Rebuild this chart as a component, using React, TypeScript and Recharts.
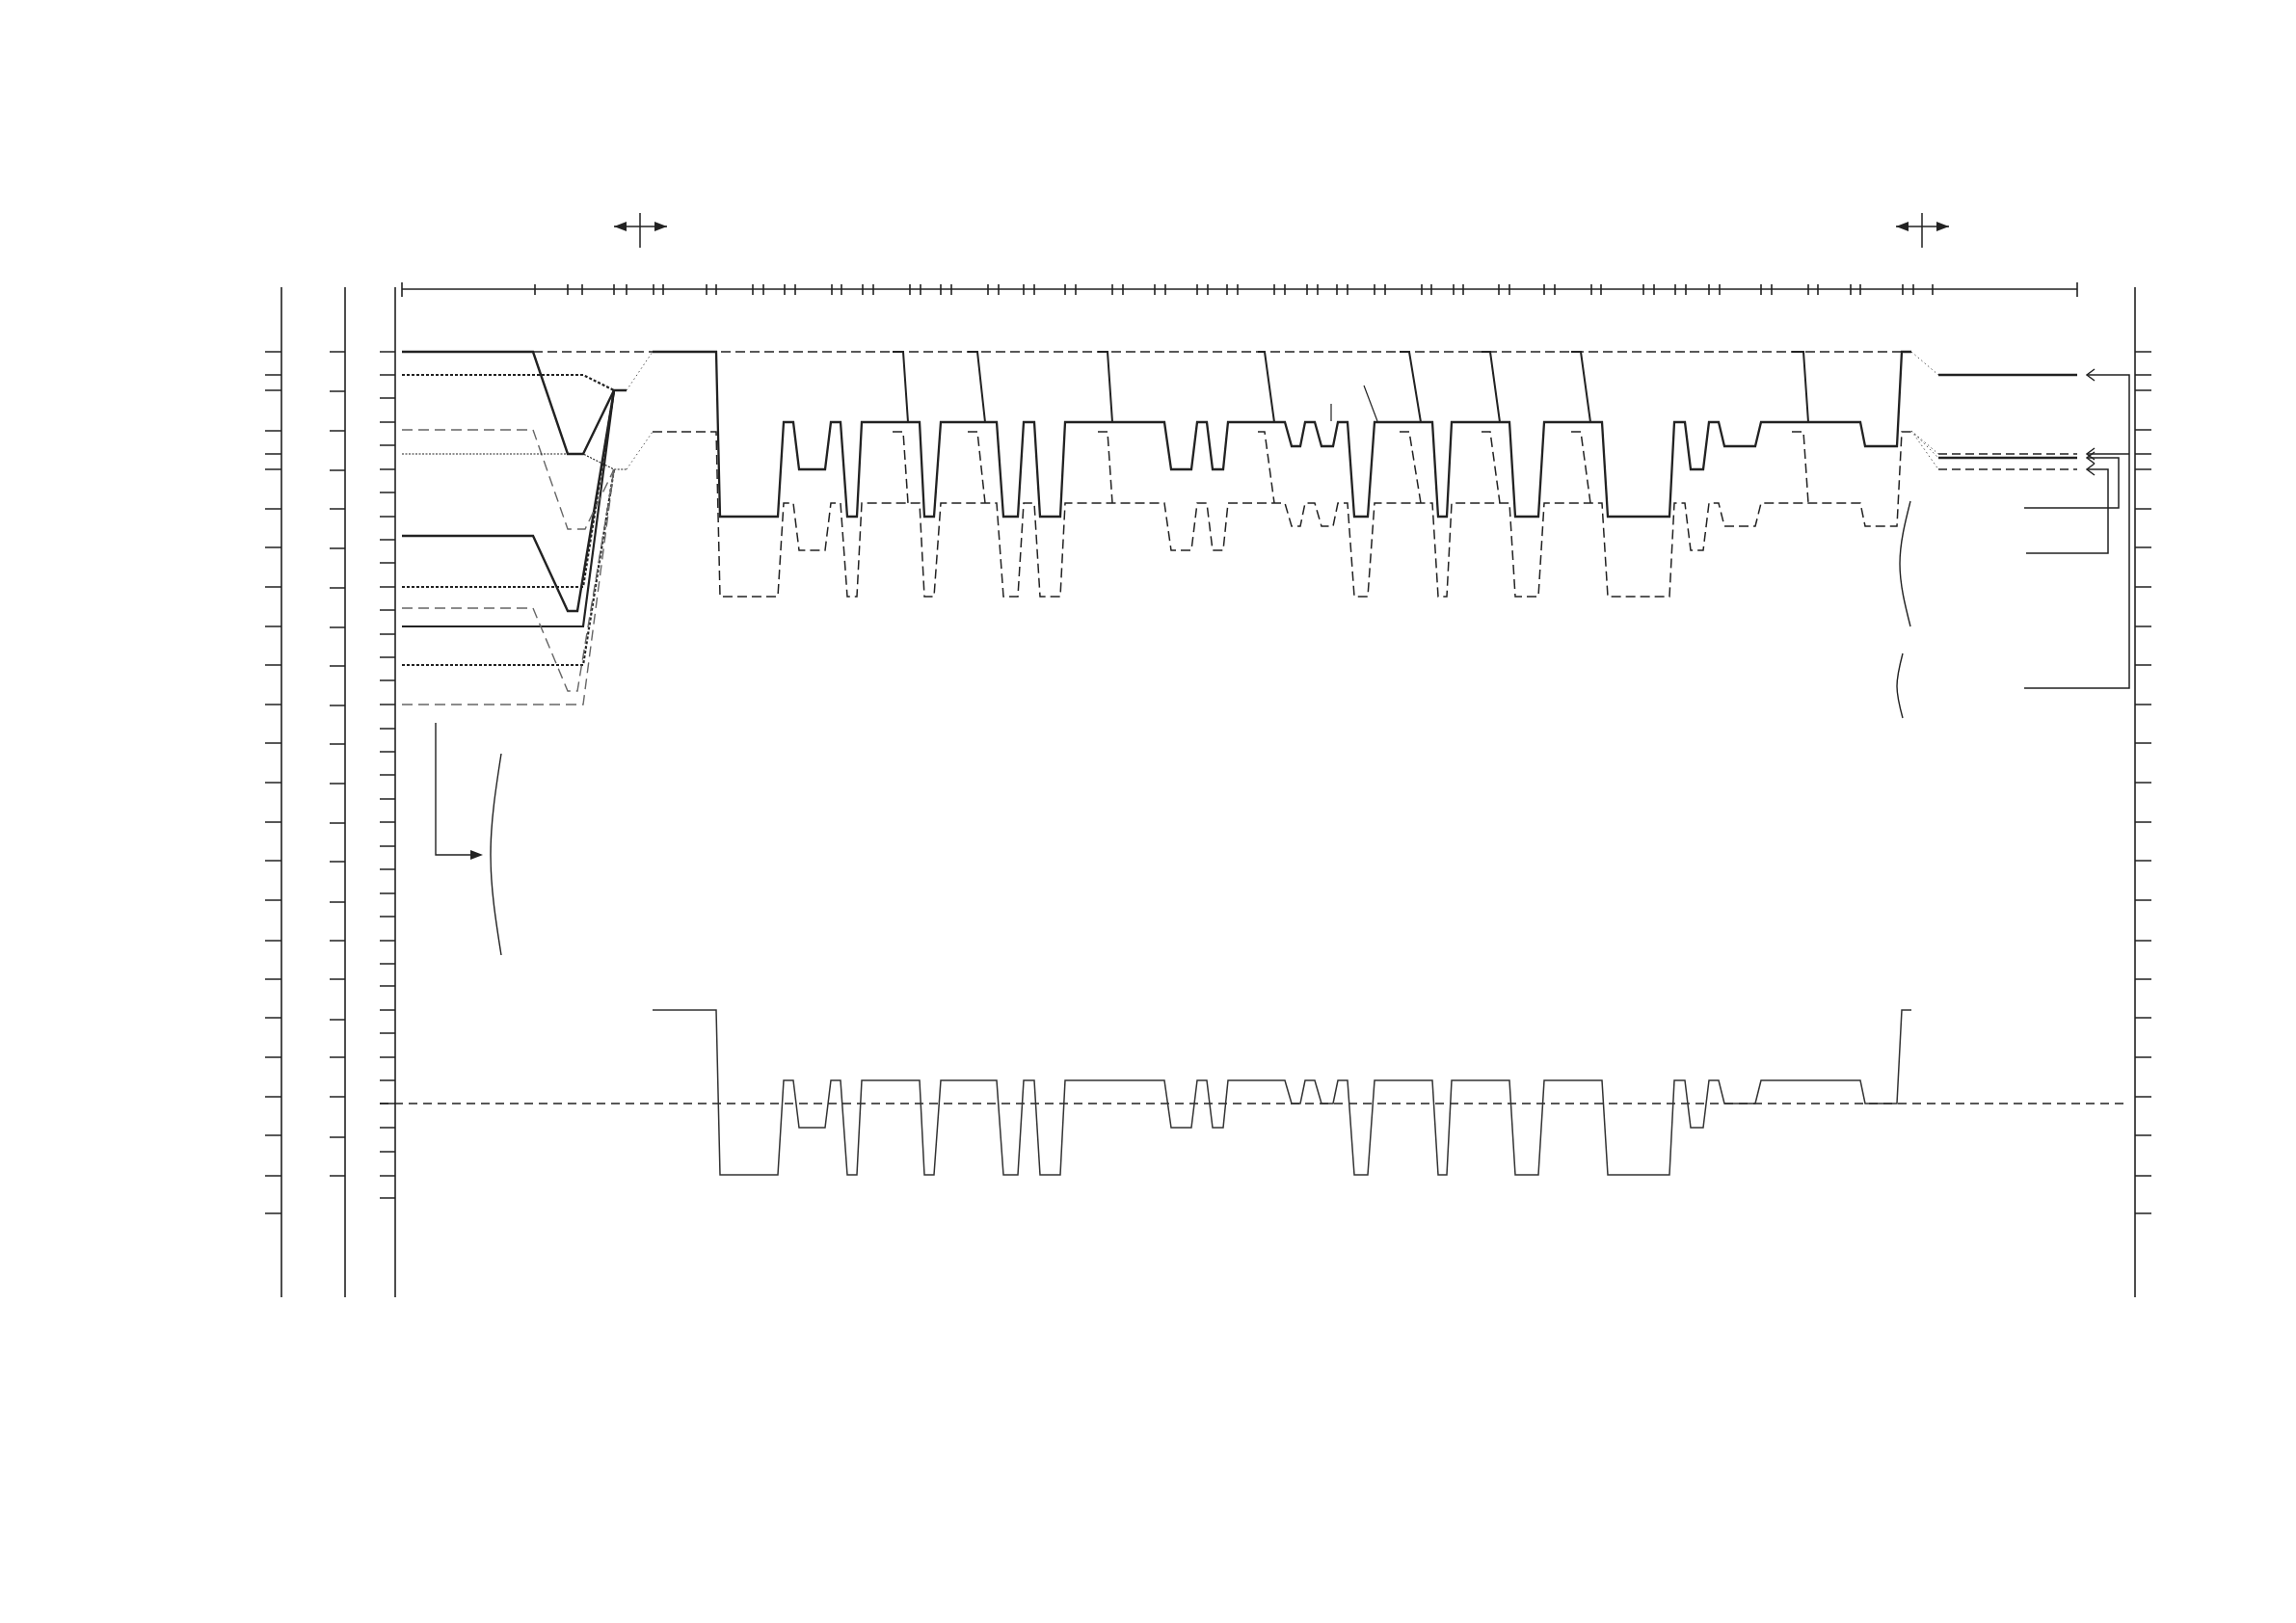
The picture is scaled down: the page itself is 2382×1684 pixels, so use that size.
import { ComposedChart, Line, Scatter, XAxis, YAxis } from "recharts";

const W = 2382;
const H = 1684;

// shared waveform: transition times and state at each time
const waveTimes = [
  677, 743, 747, 807, 813, 823, 829, 856, 862, 872, 879, 889, 894, 954, 959, 969, 976, 1034, 1041, 1056,
  1062, 1073, 1079, 1100, 1105, 1208, 1215, 1236, 1242, 1252, 1258, 1269, 1274, 1333, 1340, 1349, 1354,
  1364, 1371, 1383, 1388, 1398, 1405, 1419, 1426, 1486, 1492, 1501, 1506, 1566, 1572, 1596, 1602, 1662,
  1668, 1732, 1737, 1748, 1754, 1767, 1773, 1783, 1789, 1821, 1827, 1930, 1935, 1968, 1973, 1983,
];
const waveStates = [
  "T", "T", "L", "L", "H", "H", "M", "M", "H", "H", "L", "L", "H", "H", "L", "L", "H", "H", "L", "L",
  "H", "H", "L", "L", "H", "H", "M", "M", "H", "H", "M", "M", "H", "H", "Q", "Q", "H", "H", "Q", "Q",
  "H", "H", "L", "L", "H", "H", "L", "L", "H", "H", "L", "L", "H", "H", "L", "L", "H", "H", "M", "M",
  "H", "H", "Q", "Q", "H", "H", "Q", "Q", "T", "T",
];

const stateNames = ["T", "H", "Q", "M", "L"];
const solidLevels = [365, 438, 463, 487, 536];
const dashedLevels = [448, 522, 546, 571, 619];
const bottomLevels = [1048, 1121, 1145, 1170, 1219];

// short drops from the top rail onto the high level
const dropStart = [926, 1004, 1139, 1305, 1452, 1537, 1630, 1859];
const dropBend = [937, 1014, 1149, 1312, 1462, 1546, 1640, 1871];
const dropEnd = [942, 1022, 1154, 1322, 1474, 1556, 1650, 1876];

// ruler ticks
const topTicks = [
  555, 589, 604, 637, 650, 678, 688, 733, 743, 781, 792, 814, 825, 863, 873, 895, 906, 944, 955, 976, 987,
  1025, 1036, 1062, 1073, 1105, 1116, 1154, 1165, 1198, 1209, 1242, 1253, 1273, 1284, 1322, 1333, 1356,
  1367, 1387, 1398, 1426, 1437, 1475, 1485, 1508, 1518, 1555, 1566, 1602, 1613, 1651, 1661, 1705, 1716,
  1738, 1749, 1773, 1784, 1827, 1838, 1876, 1886, 1920, 1930, 1974, 1985, 2005,
];
const topEnds = [417, 2155];
const ticksA = [365, 389, 405, 447, 471, 487, 528, 568, 609, 650, 690, 731, 771, 812, 853, 893, 934, 976, 1016, 1056, 1097, 1138, 1178, 1220, 1259];
const ticksB = [365, 406, 447, 488, 528, 569, 610, 651, 691, 732, 772, 813, 854, 894, 936, 976, 1016, 1058, 1097, 1138, 1180, 1220];
const ticksC = [365, 389, 413, 438, 462, 487, 511, 536, 560, 584, 609, 633, 658, 682, 706, 731, 756, 780, 804, 829, 853, 878, 902, 927, 951, 976, 1000, 1023, 1048, 1072, 1097, 1121, 1145, 1170, 1195, 1220, 1243];
const ticksD = [365, 389, 405, 446, 471, 487, 528, 568, 609, 650, 690, 731, 771, 812, 853, 893, 934, 976, 1016, 1056, 1097, 1138, 1178, 1220, 1259];

// start-up traces on the left
const leftSolid1 = [[417, 365], [553, 365], [589, 471], [605, 471], [637, 405], [650, 405]];
const leftSolid2 = [[417, 556], [553, 556], [589, 634], [599, 634], [637, 405]];
const leftSolid3 = [[417, 650], [605, 650], [637, 405]];
const leftDense1 = [[417, 389], [605, 389], [637, 405]];
const leftDense2 = [[417, 609], [605, 609], [637, 405]];
const leftDense3 = [[417, 690], [605, 690], [637, 487]];
const leftGray1 = [[417, 446], [553, 446], [589, 549], [607, 549], [637, 487]];
const leftGray2 = [[417, 631], [553, 631], [589, 717], [599, 717], [637, 487]];
const leftGray3 = [[417, 731], [605, 731], [637, 487]];
const leftThin = [[417, 471], [605, 471], [637, 487], [650, 487]];
const joinDots = [
  [[650, 405], [677, 365]],
  [[650, 487], [677, 448]],
  [[1983, 365], [2011, 389]],
  [[1983, 447], [2011, 471]],
  [[1983, 447], [2011, 475]],
  [[1983, 447], [2011, 487]],
];

// outputs on the right
const outSolid = [[[2011, 389], [2155, 389]], [[2011, 475], [2155, 475]]];
const outDashed = [[[2011, 471], [2155, 471]], [[2011, 487], [2155, 487]]];
const leaders = [
  [[2165, 389], [2209, 389], [2209, 714], [2100, 714]],
  [[2165, 471], [2209, 471]],
  [[2165, 475], [2198, 475], [2198, 527], [2100, 527]],
  [[2165, 487], [2187, 487], [2187, 574], [2102, 574]],
];
const openHeadY = [389, 471, 475, 487];

const arcs = [
  [[520, 782], [509, 887], [520, 991]],
  [[1982, 520], [1971, 585], [1982, 650]],
  [[1974, 678], [1968, 712], [1974, 745]],
];
const leftArrow = [[452, 750], [452, 887], [490, 887]];
const marks = [[[1381, 419], [1381, 437]], [[1415, 400], [1429, 437]]];

const spanArrows = [
  { x0: 637, x1: 692, xm: 664 },
  { x0: 1967, x1: 2022, xm: 1994 },
];
const filledHeads = [
  { x: 637, y: 235, dir: -1 },
  { x: 692, y: 235, dir: 1 },
  { x: 1967, y: 235, dir: -1 },
  { x: 2022, y: 235, dir: 1 },
  { x: 501, y: 887, dir: 1 },
];

type Pt = { x: number; y: number | null };

const poly = (pts: number[][]): Pt[] => pts.map(([x, y]) => ({ x, y }));
const segs = (list: number[][][]): Pt[] => {
  const out: Pt[] = [];
  list.forEach((p) => {
    p.forEach(([x, y]) => out.push({ x, y }));
    out.push({ x: p[p.length - 1][0], y: null });
  });
  return out;
};
const wave = (levels: number[]): Pt[] =>
  waveTimes.map((t, i) => ({ x: t, y: levels[stateNames.indexOf(waveStates[i])] }));
const drops = (levels: number[]): Pt[] =>
  segs(dropStart.map((s, i) => [[s, levels[0]], [dropBend[i], levels[0]], [dropEnd[i], levels[1]]]));

const vTicks = (x: number, len: number, ys: number[]) => segs(ys.map((y) => [[x + len, y], [x, y]]));

const ink = "#222";

const Head = (props: any) => {
  const { cx, cy, payload } = props;
  if (cx == null || cy == null) return null;
  const d = payload.dir;
  return (
    <polygon
      points={`${cx},${cy} ${cx - d * 13},${cy - 5} ${cx - d * 13},${cy + 5}`}
      fill={ink}
    />
  );
};

export default function App() {
  const L = (key: string, data: Pt[], width: number, dash?: string, color = ink, type: any = "linear") => (
    <Line
      key={key}
      data={data}
      dataKey="y"
      type={type}
      stroke={color}
      strokeWidth={width}
      strokeDasharray={dash}
      dot={false}
      activeDot={false}
      isAnimationActive={false}
      connectNulls={false}
    />
  );

  const ruler = segs([
    [[417, 300], [2155, 300]],
    ...topTicks.map((x) => [[x, 295], [x, 306]]),
    ...topEnds.map((x) => [[x, 293], [x, 308]]),
  ]);

  return (
    <div style={{ position: "absolute", left: 0, top: 0, width: W, height: H, background: "#fff", overflow: "hidden" }}>
      <ComposedChart width={W} height={H} margin={{ top: 0, right: 0, bottom: 0, left: 0 }}>
        <XAxis type="number" dataKey="x" domain={[0, W]} hide allowDataOverflow />
        <YAxis type="number" dataKey="y" domain={[0, H]} reversed hide allowDataOverflow />

        {L("frames", segs([
          [[292, 298], [292, 1346]],
          [[358, 298], [358, 1346]],
          [[410, 298], [410, 1346]],
          [[2215, 298], [2215, 1346]],
        ]), 1.6)}
        {L("ticksA", vTicks(275, 17, ticksA), 1.3)}
        {L("ticksB", vTicks(342, 16, ticksB), 1.3)}
        {L("ticksC", vTicks(394, 16, ticksC), 1.3)}
        {L("ticksD", vTicks(2215, 17, ticksD), 1.3)}
        {L("ruler", ruler, 1.6)}

        {L("railTop", poly([[553, 365], [1973, 365]]), 1.4, "10 5")}
        {L("railBottom", poly([[394, 1145], [2203, 1145]]), 1.4, "9 6")}

        {L("ls1", poly(leftSolid1), 2.4)}
        {L("ls2", poly(leftSolid2), 2.4)}
        {L("ls3", poly(leftSolid3), 2.2)}
        {L("ld1", poly(leftDense1), 2.2, "3 2")}
        {L("ld2", poly(leftDense2), 2.2, "3 2")}
        {L("ld3", poly(leftDense3), 2.2, "3 2")}
        {L("lg1", poly(leftGray1), 1.4, "11 6", "#666")}
        {L("lg2", poly(leftGray2), 1.4, "11 6", "#666")}
        {L("lg3", poly(leftGray3), 1.4, "11 6", "#666")}
        {L("lt", poly(leftThin), 1.1, "2 1.5")}
        {L("joins", segs(joinDots), 1, "1.5 3", "#555")}

        {L("dashedWave", wave(dashedLevels), 1.5, "10 5")}
        {L("dashedDrops", drops(dashedLevels), 1.5, "10 5")}
        {L("solidWave", wave(solidLevels), 2.3)}
        {L("solidDrops", drops(solidLevels), 2)}
        {L("bottomWave", wave(bottomLevels), 1.5, undefined, "#333")}
        {L("marks", segs(marks), 1.2)}

        {L("outSolid", segs(outSolid), 2.6)}
        {L("outDashed", segs(outDashed), 1.5, "9 5")}
        {L("leaders", segs(leaders), 1.5)}
        {L("openHeads", segs(openHeadY.map((y) => [[2173, y - 6], [2165, y], [2173, y + 6]])), 1.5)}

        {arcs.map((a, i) => L(`arc${i}`, poly(a), 1.4, undefined, ink, "natural"))}
        {L("leftArrow", poly(leftArrow), 1.4)}
        {L("spans", segs(spanArrows.flatMap((s) => [
          [[s.x0, 235], [s.x1, 235]],
          [[s.xm, 221], [s.xm, 257]],
        ])), 1.5)}

        <Scatter data={filledHeads} dataKey="y" shape={Head} isAnimationActive={false} />
      </ComposedChart>
    </div>
  );
}
